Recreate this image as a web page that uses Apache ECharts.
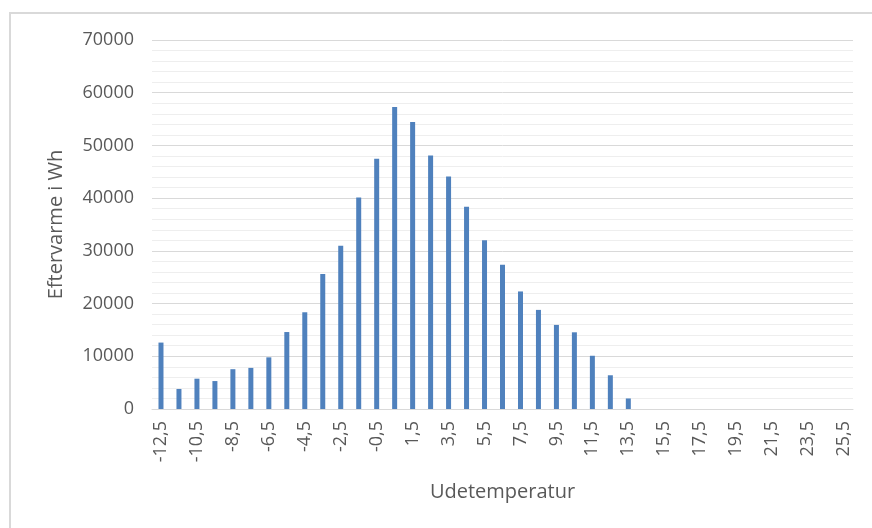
<!DOCTYPE html>
<html>
<head>
<meta charset="utf-8">
<style>
  html, body { margin: 0; padding: 0; background: #ffffff; }
  #chart { width: 872px; height: 528px; }
</style>
<script src="https://cdn.jsdelivr.net/npm/echarts@6/dist/echarts.min.js"></script>
</head>
<body>
<div id="chart"></div>
<script>
// Outdoor temperature bins (°C), shown with Danish decimal comma
const temperatures = [
  -12.5, -11.5, -10.5, -9.5, -8.5, -7.5, -6.5, -5.5, -4.5, -3.5, -2.5, -1.5, -0.5,
  0.5, 1.5, 2.5, 3.5, 4.5, 5.5, 6.5, 7.5, 8.5, 9.5, 10.5, 11.5, 12.5, 13.5,
  14.5, 15.5, 16.5, 17.5, 18.5, 19.5, 20.5, 21.5, 22.5, 23.5, 24.5, 25.5
];

// Reheating energy (Wh) per temperature bin
const eftervarme = [
  12600, 3800, 5750, 5300, 7550, 7800, 9800, 14600, 18350, 25600, 30950, 40100, 47450,
  57300, 54450, 48100, 44100, 38350, 32000, 27350, 22300, 18800, 15950, 14550, 10100, 6400, 2000,
  0, 0, 0, 0, 0, 0, 0, 0, 0, 0, 0, 0
];

const yTicks = [0, 10000, 20000, 30000, 40000, 50000, 60000, 70000];

const categoryLabels = temperatures.map(t => String(t).replace('.', ','));

const chart = echarts.init(document.getElementById('chart'), null, { renderer: 'canvas' });

const textColor = '#595959';
const fontFamily = '"Open Sans", "Noto Sans", sans-serif';

chart.setOption({
  backgroundColor: '#ffffff',
  animation: false,
  graphic: [{
    type: 'rect',
    shape: { x: 10, y: 13, width: 900, height: 600 },
    style: { fill: 'none', stroke: '#d9d9d9', lineWidth: 2 },
    silent: true,
    z: -1
  }],
  grid: { left: 152, right: 19, top: 40, bottom: 119, containLabel: false },
  xAxis: {
    type: 'category',
    data: categoryLabels,
    name: 'Udetemperatur',
    nameLocation: 'middle',
    nameGap: 73,
    nameTextStyle: { color: textColor, fontSize: 20, fontFamily: fontFamily },
    axisLine: { lineStyle: { color: '#d9d9d9', width: 1 } },
    axisTick: { show: false },
    axisLabel: {
      interval: 1,
      rotate: 90,
      margin: 12,
      color: textColor,
      fontSize: 18,
      fontFamily: fontFamily
    }
  },
  yAxis: {
    type: 'value',
    min: yTicks[0],
    max: yTicks[yTicks.length - 1],
    interval: yTicks[1] - yTicks[0],
    name: 'Eftervarme i Wh',
    nameLocation: 'middle',
    nameGap: 86,
    nameTextStyle: { color: textColor, fontSize: 20, fontFamily: fontFamily },
    axisLine: { show: false },
    axisTick: { show: false },
    axisLabel: {
      margin: 18,
      color: textColor,
      fontSize: 18,
      fontFamily: fontFamily,
      formatter: v => String(v)
    },
    splitLine: { lineStyle: { color: '#d9d9d9', width: 1 } },
    minorTick: { show: false, splitNumber: 5 },
    minorSplitLine: { show: true, lineStyle: { color: '#eeeeee', width: 1 } }
  },
  series: [{
    type: 'bar',
    data: eftervarme,
    barWidth: 5,
    itemStyle: { color: '#4f81bd' }
  }]
});
</script>
</body>
</html>
